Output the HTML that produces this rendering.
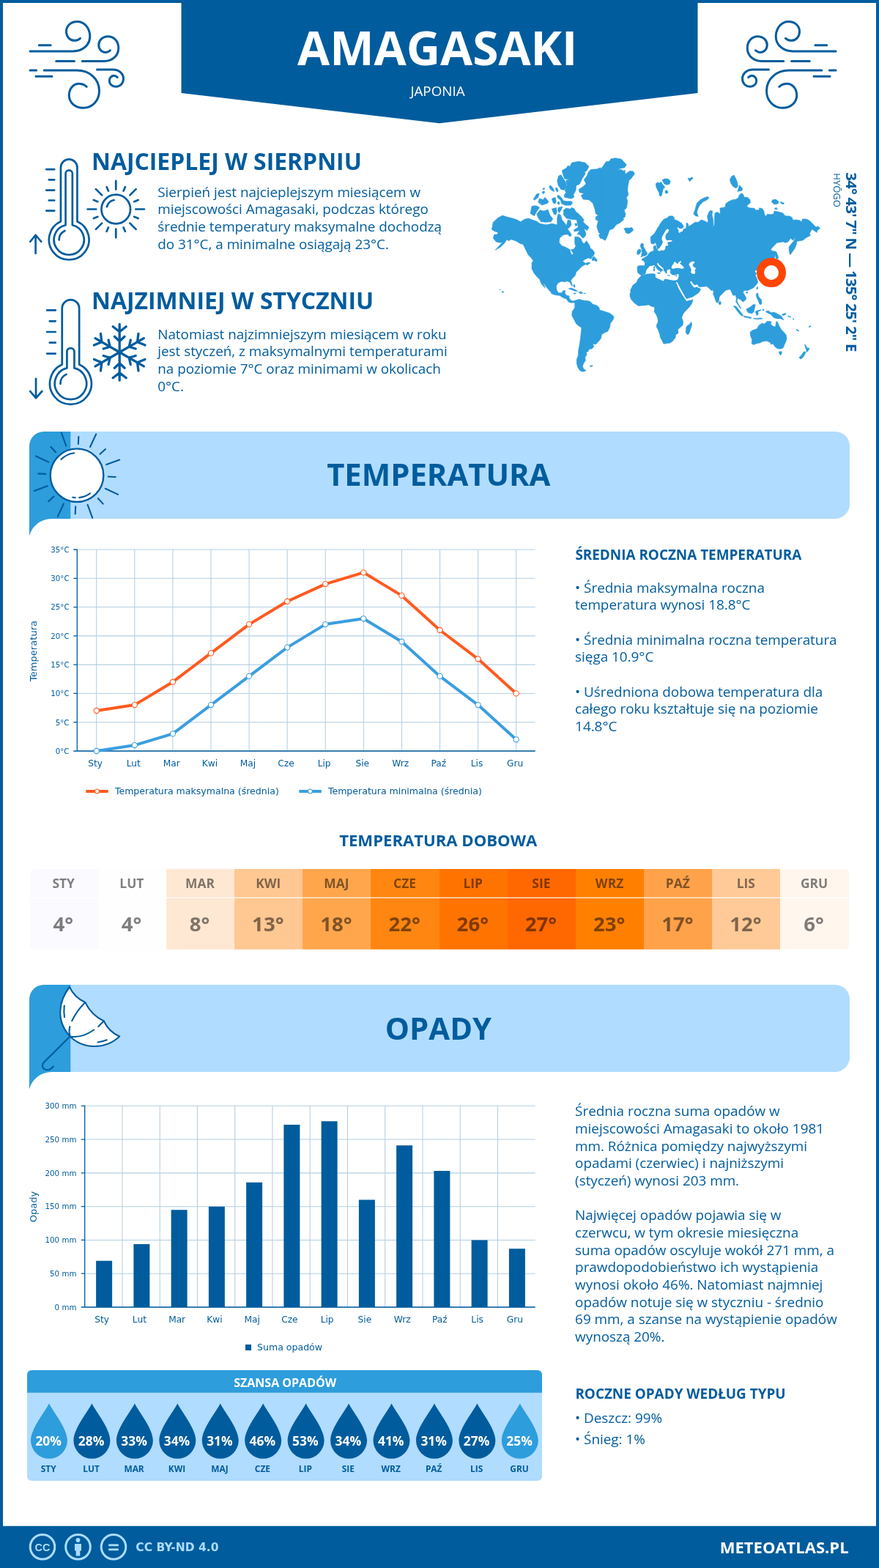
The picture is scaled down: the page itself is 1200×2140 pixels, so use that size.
<!DOCTYPE html>
<html lang="pl">
<head>
<meta charset="utf-8">
<title>Amagasaki – klimat i pogoda</title>
<style>
html,body{margin:0;padding:0;background:#fff}
body{width:1200px;height:2140px;overflow:hidden}
svg{display:block}
text{font-family:'Open Sans','Liberation Sans',sans-serif;fill:#005c9d}
.r{font-weight:400}
.sb{font-weight:600}
.b{font-weight:700}
.d{font-family:'DejaVu Sans','Liberation Sans',sans-serif;font-weight:400}
.db{font-family:'DejaVu Sans','Liberation Sans',sans-serif;font-weight:700}
.lb{font-family:'Liberation Sans',sans-serif;font-weight:700}
</style>
</head>
<body>
<svg width="1200" height="2140" viewBox="0 0 1200 2140">
<rect x="0" y="0" width="1200" height="2140" fill="#fff"/>
<path d="M0 0H1200V2140H0Z M4 4V2084H1196V4Z" fill="#005c9d" fill-rule="evenodd"/>
<path d="M247.5 0H952.5V127L600 168.3L247.5 127Z" fill="#005c9d"/>
<text id="t1" class="b" x="597.1" y="88.8" font-size="64" text-anchor="middle" style="fill:#fff" textLength="382.25" lengthAdjust="spacingAndGlyphs">AMAGASAKI</text>
<text id="t2" class="r" x="597.5" y="131" font-size="18.8" text-anchor="middle" style="fill:#fff" textLength="74.09" lengthAdjust="spacingAndGlyphs">JAPONIA</text>
<g fill="none" stroke="#005c9d" stroke-width="20" stroke-linecap="round" stroke-linejoin="round"><path transform="translate(20 10) scale(0.15)" d="M140 400H530C620 400 690 340 685 255C680 180 630 130 570 130C510 130 468 170 470 225C472 270 505 303 545 302C565 302 585 293 597 282M222 345H328M378 490H543M615 490H815C890 490 945 440 945 370C945 310 905 265 850 265C800 265 765 300 765 342C765 380 792 410 826 410C843 410 860 402 870 392M140 574H198M193 629H340M268 574H565C680 574 770 650 770 760C770 850 705 915 625 915C550 915 495 865 495 800C495 740 535 695 585 695C612 695 637 706 655 722M750 567H895C950 567 990 603 990 650C990 692 960 722 920 722C887 722 862 698 862 668C862 642 881 622 905 622C917 622 927 628 935 637"/><path transform="translate(1162 10) scale(-0.15 0.15)" d="M140 400H530C620 400 690 340 685 255C680 180 630 130 570 130C510 130 468 170 470 225C472 270 505 303 545 302C565 302 585 293 597 282M222 345H328M378 490H543M615 490H815C890 490 945 440 945 370C945 310 905 265 850 265C800 265 765 300 765 342C765 380 792 410 826 410C843 410 860 402 870 392M140 574H198M193 629H340M268 574H565C680 574 770 650 770 760C770 850 705 915 625 915C550 915 495 865 495 800C495 740 535 695 585 695C612 695 637 706 655 722M750 567H895C950 567 990 603 990 650C990 692 960 722 920 722C887 722 862 698 862 668C862 642 881 622 905 622C917 622 927 628 935 637"/></g>
<text id="t3" class="b" x="125" y="232" font-size="31.9" textLength="368.75" lengthAdjust="spacingAndGlyphs">NAJCIEPLEJ W SIERPNIU</text>
<text id="t4" class="r" x="215.2" y="269" font-size="18.88" textLength="358.83" lengthAdjust="spacingAndGlyphs">Sierpień jest najcieplejszym miesiącem w</text>
<text id="t5" class="r" x="215.2" y="292" font-size="18.88" textLength="369.61" lengthAdjust="spacingAndGlyphs">miejscowości Amagasaki, podczas którego</text>
<text id="t6" class="r" x="215.2" y="316" font-size="18.88" textLength="387.80" lengthAdjust="spacingAndGlyphs">średnie temperatury maksymalne dochodzą</text>
<text id="t7" class="r" x="215.2" y="340" font-size="18.88" textLength="315.69" lengthAdjust="spacingAndGlyphs">do 31°C, a minimalne osiągają 23°C.</text>
<text id="t8" class="b" x="125" y="422" font-size="31.9" textLength="385.20" lengthAdjust="spacingAndGlyphs">NAJZIMNIEJ W STYCZNIU</text>
<text id="t9" class="r" x="215.2" y="463" font-size="18.88" textLength="394.31" lengthAdjust="spacingAndGlyphs">Natomiast najzimniejszym miesiącem w roku</text>
<text id="t10" class="r" x="215.2" y="486" font-size="18.88" textLength="395.58" lengthAdjust="spacingAndGlyphs">jest styczeń, z maksymalnymi temperaturami</text>
<text id="t11" class="r" x="215.2" y="510" font-size="18.88" textLength="386.75" lengthAdjust="spacingAndGlyphs">na poziomie 7°C oraz minimami w okolicach</text>
<text id="t12" class="r" x="215.2" y="534" font-size="18.88" textLength="35.70" lengthAdjust="spacingAndGlyphs">0°C.</text>
<g fill="none" stroke="#005c9d" stroke-width="18" stroke-linecap="round" stroke-linejoin="round"><g transform="translate(30 200) scale(0.15)"><path d="M353.0 682.2V191.0A75 75 0 0 1 503.0 191.0V682.2A182 182 0 1 1 353.0 682.2ZM397.0 714.6V247.0A31 31 0 0 1 459.0 247.0V714.6A137 137 0 1 1 397.0 714.6ZM222 208H295M245 302H295M222 397H295M245 490H295M222 584H295M338.0 850.0A90 90 0 0 1 390.0 766.4M124 972V805M75 865L124 805L175 865"/><path d="M723 570A132 132 0 1 0 987 570A132 132 0 1 0 723 570ZM1035.0 570.0L1113.0 570.0M1021.3 638.9L1057.3 653.8M982.3 697.3L1037.4 752.4M923.9 736.3L938.8 772.3M855.0 750.0L855.0 828.0M786.1 736.3L771.2 772.3M727.7 697.3L672.6 752.4M688.7 638.9L652.7 653.8M675.0 570.0L597.0 570.0M688.7 501.1L652.7 486.2M727.7 442.7L672.6 387.6M786.1 403.7L771.2 367.7M855.0 390.0L855.0 312.0M923.9 403.7L938.8 367.7M982.3 442.7L1037.4 387.6M1021.3 501.1L1057.3 486.2M772.9 548.0A85 85 0 0 1 837.3 486.9"/></g><g transform="translate(30 390) scale(0.15)"><path d="M365.0 717.3V205.0A78 78 0 0 1 521.0 205.0V717.3A189.5 189.5 0 1 1 365.0 717.3ZM409.5 749.4V600.5A33.5 33.5 0 0 1 476.5 600.5V749.4A144.5 144.5 0 1 1 409.5 749.4ZM228 223H305M252 322H305M228 420H305M252 518H305M228 617H305M350.0 892.0A93 93 0 0 1 403.7 805.7M127 845V1020M75 960L127 1022L182 960"/><g stroke-width="22"><path transform="translate(888 605) rotate(0)" d="M0 0V-255M-60 -233L0 -187L60 -233M-46 -143L0 -100L46 -143"/><path transform="translate(888 605) rotate(60)" d="M0 0V-255M-60 -233L0 -187L60 -233M-46 -143L0 -100L46 -143"/><path transform="translate(888 605) rotate(120)" d="M0 0V-255M-60 -233L0 -187L60 -233M-46 -143L0 -100L46 -143"/><path transform="translate(888 605) rotate(180)" d="M0 0V-255M-60 -233L0 -187L60 -233M-46 -143L0 -100L46 -143"/><path transform="translate(888 605) rotate(240)" d="M0 0V-255M-60 -233L0 -187L60 -233M-46 -143L0 -100L46 -143"/><path transform="translate(888 605) rotate(300)" d="M0 0V-255M-60 -233L0 -187L60 -233M-46 -143L0 -100L46 -143"/></g></g></g>
<g transform="translate(1154.7 235.3) rotate(90)">
<text id="t13" class="b" x="0" y="0" font-size="20.3" letter-spacing="-0.74">34° 43' 7" N — 135° 25' 2" E</text>
</g>
<g transform="translate(1138 236.3) rotate(90)">
<text id="t14" class="r" x="0" y="0" font-size="13.05" textLength="46.70" lengthAdjust="spacingAndGlyphs">HYŌGO</text>
</g>
<path d="M96 588.9H1140A20 20 0 0 1 1160 608.9V687.9A20 20 0 0 1 1140 707.9H96Z" fill="#b0dcff"/>
<path d="M96.3 588.9H60A20 20 0 0 0 40 608.9V731.4A31.5 31.5 0 0 1 70.5 707.9H96.3Z" fill="#2d9ddc"/>
<text id="t15" class="b" x="598.8" y="663" font-size="41.8" text-anchor="middle" textLength="305.34" lengthAdjust="spacingAndGlyphs">TEMPERATURA</text>
<path d="M96 1343.9H1140A20 20 0 0 1 1160 1363.9V1442.9A20 20 0 0 1 1140 1462.9H96Z" fill="#b0dcff"/>
<path d="M96.3 1343.9H60A20 20 0 0 0 40 1363.9V1486.4A31.5 31.5 0 0 1 70.5 1462.9H96.3Z" fill="#2d9ddc"/>
<text id="t16" class="b" x="598.5" y="1419" font-size="41.8" text-anchor="middle" textLength="145.38" lengthAdjust="spacingAndGlyphs">OPADY</text>
<g transform="translate(30 580) scale(0.15)" fill="none" stroke="#005c9d" stroke-width="14" stroke-linecap="round" stroke-linejoin="round"><circle cx="500" cy="458" r="242" fill="#fff" stroke-width="16"/><path d="M767.8 360.5L888.1 316.7M784.7 470.4L851.7 473.4M758.3 578.4L874.3 632.5M692.5 668.1L737.8 717.5M597.5 725.8L641.3 846.1M487.6 742.7L484.6 809.7M379.6 716.3L325.5 832.3M289.9 650.5L240.5 695.8M232.2 555.5L111.9 599.3M215.3 445.6L148.3 442.6M241.7 337.6L125.7 283.5M307.5 247.9L262.2 198.5M402.5 190.2L358.7 69.9M512.4 173.3L515.4 106.3M620.4 199.7L674.5 83.7M710.1 265.5L759.5 220.2M355.8 313.8A204 204 0 0 1 475.1 255.5M619.9 623.0A204 204 0 0 1 521.3 660.9M485.8 661.5A204 204 0 0 1 461.1 658.3"/></g>
<g transform="translate(30 1335) scale(0.15)" fill="none" stroke="#005c9d" stroke-width="14" stroke-linecap="round" stroke-linejoin="round"><path d="M433 80C340 200 300 380 437 530C560 650 760 650 888 530C830 505 780 465 745 390C680 360 615 300 575 220C510 190 465 150 433 80Z" fill="#fff"/><path d="M575 220C520 275 480 335 455 388M435 440C428 470 428 500 437 530M437 530C520 545 590 515 655 470M695 440L745 390M385 250C381 290 381 320 387 355M690 583C720 580 745 573 772 562M437 530L200 765C175 790 185 835 235 835C255 835 270 820 285 803"/></g>
<path d="M131.70 750.0V1025.0M183.79 750.0V1025.0M235.88 750.0V1025.0M287.97 750.0V1025.0M340.06 750.0V1025.0M392.15 750.0V1025.0M444.24 750.0V1025.0M496.33 750.0V1025.0M548.42 750.0V1025.0M600.51 750.0V1025.0M652.60 750.0V1025.0M704.69 750.0V1025.0M105.3 1025.00H730.7M105.3 985.71H730.7M105.3 946.43H730.7M105.3 907.14H730.7M105.3 867.86H730.7M105.3 828.57H730.7M105.3 789.29H730.7M105.3 750.00H730.7" fill="none" stroke="#b3cfe4" stroke-width="1.05"/>
<path d="M105.3 749.4V1025.0H730.7M100.3 1025.00H105.3M100.3 985.71H105.3M100.3 946.43H105.3M100.3 907.14H105.3M100.3 867.86H105.3M100.3 828.57H105.3M100.3 789.29H105.3M100.3 750.00H105.3" fill="none" stroke="#005c9d" stroke-width="1.3"/>
<text id="t17" class="d" x="94.5" y="1028.8" font-size="10.2" text-anchor="end" textLength="18.70" lengthAdjust="spacingAndGlyphs">0°C</text>
<text id="t18" class="d" x="94.5" y="989.51" font-size="10.2" text-anchor="end" textLength="18.70" lengthAdjust="spacingAndGlyphs">5°C</text>
<text id="t19" class="d" x="94.5" y="950.23" font-size="10.2" text-anchor="end" textLength="25.17" lengthAdjust="spacingAndGlyphs">10°C</text>
<text id="t20" class="d" x="94.5" y="910.94" font-size="10.2" text-anchor="end" textLength="25.17" lengthAdjust="spacingAndGlyphs">15°C</text>
<text id="t21" class="d" x="94.5" y="871.66" font-size="10.2" text-anchor="end" textLength="25.17" lengthAdjust="spacingAndGlyphs">20°C</text>
<text id="t22" class="d" x="94.5" y="832.37" font-size="10.2" text-anchor="end" textLength="25.17" lengthAdjust="spacingAndGlyphs">25°C</text>
<text id="t23" class="d" x="94.5" y="793.09" font-size="10.2" text-anchor="end" textLength="25.17" lengthAdjust="spacingAndGlyphs">30°C</text>
<text id="t24" class="d" x="94.5" y="753.8" font-size="10.2" text-anchor="end" textLength="25.17" lengthAdjust="spacingAndGlyphs">35°C</text>
<text id="t25" class="d" x="130.1" y="1045.6" font-size="12.2" text-anchor="middle" textLength="19.73" lengthAdjust="spacingAndGlyphs">Sty</text>
<text id="t26" class="d" x="182.19" y="1045.6" font-size="12.2" text-anchor="middle" textLength="19.09" lengthAdjust="spacingAndGlyphs">Lut</text>
<text id="t27" class="d" x="234.28" y="1045.6" font-size="12.2" text-anchor="middle" textLength="23.00" lengthAdjust="spacingAndGlyphs">Mar</text>
<text id="t28" class="d" x="286.37" y="1045.6" font-size="12.2" text-anchor="middle" textLength="21.36" lengthAdjust="spacingAndGlyphs">Kwi</text>
<text id="t29" class="d" x="338.46" y="1045.6" font-size="12.2" text-anchor="middle" textLength="21.38" lengthAdjust="spacingAndGlyphs">Maj</text>
<text id="t30" class="d" x="390.55" y="1045.6" font-size="12.2" text-anchor="middle" textLength="22.41" lengthAdjust="spacingAndGlyphs">Cze</text>
<text id="t31" class="d" x="442.64" y="1045.6" font-size="12.2" text-anchor="middle" textLength="17.92" lengthAdjust="spacingAndGlyphs">Lip</text>
<text id="t32" class="d" x="494.72999999999996" y="1045.6" font-size="12.2" text-anchor="middle" textLength="18.62" lengthAdjust="spacingAndGlyphs">Sie</text>
<text id="t33" class="d" x="546.82" y="1045.6" font-size="12.2" text-anchor="middle" textLength="22.92" lengthAdjust="spacingAndGlyphs">Wrz</text>
<text id="t34" class="d" x="598.91" y="1045.6" font-size="12.2" text-anchor="middle" textLength="20.67" lengthAdjust="spacingAndGlyphs">Paź</text>
<text id="t35" class="d" x="651.0000000000001" y="1045.6" font-size="12.2" text-anchor="middle" textLength="16.53" lengthAdjust="spacingAndGlyphs">Lis</text>
<text id="t36" class="d" x="703.09" y="1045.6" font-size="12.2" text-anchor="middle" textLength="22.19" lengthAdjust="spacingAndGlyphs">Gru</text>
<g transform="translate(49.8 888.5) rotate(-90)">
<text id="t37" class="d" x="0" y="0" font-size="13.1" text-anchor="middle" textLength="83.20" lengthAdjust="spacingAndGlyphs">Temperatura</text>
</g>
<polyline points="131.7,970.0 183.8,962.1 235.9,930.7 288.0,891.4 340.1,852.1 392.2,820.7 444.2,797.1 496.3,781.4 548.4,812.9 600.5,860.0 652.6,899.3 704.7,946.4" fill="none" stroke="#ff5a1f" stroke-width="4" stroke-linejoin="round" stroke-linecap="round"/>
<g fill="#fff" stroke="#ff5a1f" stroke-width="1.1"><circle cx="131.7" cy="970.0" r="3.6"/><circle cx="183.8" cy="962.1" r="3.6"/><circle cx="235.9" cy="930.7" r="3.6"/><circle cx="288.0" cy="891.4" r="3.6"/><circle cx="340.1" cy="852.1" r="3.6"/><circle cx="392.2" cy="820.7" r="3.6"/><circle cx="444.2" cy="797.1" r="3.6"/><circle cx="496.3" cy="781.4" r="3.6"/><circle cx="548.4" cy="812.9" r="3.6"/><circle cx="600.5" cy="860.0" r="3.6"/><circle cx="652.6" cy="899.3" r="3.6"/><circle cx="704.7" cy="946.4" r="3.6"/></g>
<polyline points="131.7,1025.0 183.8,1017.1 235.9,1001.4 288.0,962.1 340.1,922.9 392.2,883.6 444.2,852.1 496.3,844.3 548.4,875.7 600.5,922.9 652.6,962.1 704.7,1009.3" fill="none" stroke="#3a9ee0" stroke-width="4" stroke-linejoin="round" stroke-linecap="round"/>
<g fill="#fff" stroke="#3a9ee0" stroke-width="1.1"><circle cx="131.7" cy="1025.0" r="3.6"/><circle cx="183.8" cy="1017.1" r="3.6"/><circle cx="235.9" cy="1001.4" r="3.6"/><circle cx="288.0" cy="962.1" r="3.6"/><circle cx="340.1" cy="922.9" r="3.6"/><circle cx="392.2" cy="883.6" r="3.6"/><circle cx="444.2" cy="852.1" r="3.6"/><circle cx="496.3" cy="844.3" r="3.6"/><circle cx="548.4" cy="875.7" r="3.6"/><circle cx="600.5" cy="922.9" r="3.6"/><circle cx="652.6" cy="962.1" r="3.6"/><circle cx="704.7" cy="1009.3" r="3.6"/></g>
<path d="M117.3 1080H147.8" stroke="#ff5a1f" stroke-width="4" fill="none"/>
<circle cx="132.5" cy="1080" r="3" fill="#fff" stroke="#ff5a1f" stroke-width="1.1"/>
<text id="t38" class="d" x="156.9" y="1084.2" font-size="12.55" textLength="223.91" lengthAdjust="spacingAndGlyphs">Temperatura maksymalna (średnia)</text>
<path d="M408.3 1080H438.8" stroke="#3a9ee0" stroke-width="4" fill="none"/>
<circle cx="423.5" cy="1080" r="3" fill="#fff" stroke="#3a9ee0" stroke-width="1.1"/>
<text id="t39" class="d" x="447.90000000000003" y="1084.2" font-size="12.55" textLength="209.91" lengthAdjust="spacingAndGlyphs">Temperatura minimalna (średnia)</text>
<path d="M166.95 1509.3V1784.0M218.20 1509.3V1784.0M269.45 1509.3V1784.0M320.70 1509.3V1784.0M371.95 1509.3V1784.0M423.20 1509.3V1784.0M474.45 1509.3V1784.0M525.70 1509.3V1784.0M576.95 1509.3V1784.0M628.20 1509.3V1784.0M679.45 1509.3V1784.0M115.7 1784.00H730.7M115.7 1738.22H730.7M115.7 1692.43H730.7M115.7 1646.65H730.7M115.7 1600.87H730.7M115.7 1555.08H730.7M115.7 1509.30H730.7" fill="none" stroke="#b3cfe4" stroke-width="1.05"/>
<path d="M131.12 1784.0V1720.82H153.12V1784.0ZM182.38 1784.0V1697.93H204.38V1784.0ZM233.62 1784.0V1651.23H255.62V1784.0ZM284.88 1784.0V1646.65H306.88V1784.0ZM336.12 1784.0V1613.69H358.12V1784.0ZM387.38 1784.0V1534.94H409.38V1784.0ZM438.62 1784.0V1530.36H460.62V1784.0ZM489.88 1784.0V1637.49H511.88V1784.0ZM541.12 1784.0V1563.32H563.12V1784.0ZM592.38 1784.0V1598.12H614.38V1784.0ZM643.62 1784.0V1692.43H665.62V1784.0ZM694.88 1784.0V1704.34H716.88V1784.0Z" fill="#005c9d"/>
<path d="M115.7 1508.7V1784.0H730.7M110.7 1784.00H115.7M110.7 1738.22H115.7M110.7 1692.43H115.7M110.7 1646.65H115.7M110.7 1600.87H115.7M110.7 1555.08H115.7M110.7 1509.30H115.7" fill="none" stroke="#005c9d" stroke-width="1.3"/>
<text id="t40" class="d" x="104.5" y="1787.8" font-size="10.3" text-anchor="end" textLength="29.89" lengthAdjust="spacingAndGlyphs">0 mm</text>
<text id="t41" class="d" x="104.5" y="1742.02" font-size="10.3" text-anchor="end" textLength="36.44" lengthAdjust="spacingAndGlyphs">50 mm</text>
<text id="t42" class="d" x="104.5" y="1696.23" font-size="10.3" text-anchor="end" textLength="43.00" lengthAdjust="spacingAndGlyphs">100 mm</text>
<text id="t43" class="d" x="104.5" y="1650.45" font-size="10.3" text-anchor="end" textLength="43.00" lengthAdjust="spacingAndGlyphs">150 mm</text>
<text id="t44" class="d" x="104.5" y="1604.67" font-size="10.3" text-anchor="end" textLength="43.00" lengthAdjust="spacingAndGlyphs">200 mm</text>
<text id="t45" class="d" x="104.5" y="1558.88" font-size="10.3" text-anchor="end" textLength="43.00" lengthAdjust="spacingAndGlyphs">250 mm</text>
<text id="t46" class="d" x="104.5" y="1513.1" font-size="10.3" text-anchor="end" textLength="43.00" lengthAdjust="spacingAndGlyphs">300 mm</text>
<text id="t47" class="d" x="139.125" y="1804.6" font-size="12.2" text-anchor="middle" textLength="19.73" lengthAdjust="spacingAndGlyphs">Sty</text>
<text id="t48" class="d" x="190.375" y="1804.6" font-size="12.2" text-anchor="middle" textLength="19.09" lengthAdjust="spacingAndGlyphs">Lut</text>
<text id="t49" class="d" x="241.625" y="1804.6" font-size="12.2" text-anchor="middle" textLength="23.00" lengthAdjust="spacingAndGlyphs">Mar</text>
<text id="t50" class="d" x="292.875" y="1804.6" font-size="12.2" text-anchor="middle" textLength="21.36" lengthAdjust="spacingAndGlyphs">Kwi</text>
<text id="t51" class="d" x="344.125" y="1804.6" font-size="12.2" text-anchor="middle" textLength="21.38" lengthAdjust="spacingAndGlyphs">Maj</text>
<text id="t52" class="d" x="395.375" y="1804.6" font-size="12.2" text-anchor="middle" textLength="22.41" lengthAdjust="spacingAndGlyphs">Cze</text>
<text id="t53" class="d" x="446.625" y="1804.6" font-size="12.2" text-anchor="middle" textLength="17.92" lengthAdjust="spacingAndGlyphs">Lip</text>
<text id="t54" class="d" x="497.875" y="1804.6" font-size="12.2" text-anchor="middle" textLength="18.62" lengthAdjust="spacingAndGlyphs">Sie</text>
<text id="t55" class="d" x="549.125" y="1804.6" font-size="12.2" text-anchor="middle" textLength="22.92" lengthAdjust="spacingAndGlyphs">Wrz</text>
<text id="t56" class="d" x="600.375" y="1804.6" font-size="12.2" text-anchor="middle" textLength="20.67" lengthAdjust="spacingAndGlyphs">Paź</text>
<text id="t57" class="d" x="651.625" y="1804.6" font-size="12.2" text-anchor="middle" textLength="16.53" lengthAdjust="spacingAndGlyphs">Lis</text>
<text id="t58" class="d" x="702.875" y="1804.6" font-size="12.2" text-anchor="middle" textLength="22.19" lengthAdjust="spacingAndGlyphs">Gru</text>
<g transform="translate(49.8 1647) rotate(-90)">
<text id="t59" class="d" x="0" y="0" font-size="13.1" text-anchor="middle" textLength="42.70" lengthAdjust="spacingAndGlyphs">Opady</text>
</g>
<rect x="335" y="1835" width="8" height="8" fill="#005c9d"/>
<text id="t60" class="d" x="351" y="1842.8" font-size="12.55" textLength="89.06" lengthAdjust="spacingAndGlyphs">Suma opadów</text>
<text id="t61" class="b" x="785.4" y="764" font-size="18.9" textLength="308.78" lengthAdjust="spacingAndGlyphs">ŚREDNIA ROCZNA TEMPERATURA</text>
<text id="t62" class="r" x="785.1" y="809" font-size="18.88" textLength="258.78" lengthAdjust="spacingAndGlyphs">• Średnia maksymalna roczna</text>
<text id="t63" class="r" x="785.1" y="832" font-size="18.88" textLength="239.34" lengthAdjust="spacingAndGlyphs">temperatura wynosi 18.8°C</text>
<text id="t64" class="r" x="785.1" y="880" font-size="18.88" textLength="357.50" lengthAdjust="spacingAndGlyphs">• Średnia minimalna roczna temperatura</text>
<text id="t65" class="r" x="785.1" y="903" font-size="18.88" textLength="107.22" lengthAdjust="spacingAndGlyphs">sięga 10.9°C</text>
<text id="t66" class="r" x="785.1" y="951" font-size="18.88" textLength="338.19" lengthAdjust="spacingAndGlyphs">• Uśredniona dobowa temperatura dla</text>
<text id="t67" class="r" x="785.1" y="974" font-size="18.88" textLength="331.84" lengthAdjust="spacingAndGlyphs">całego roku kształtuje się na poziomie</text>
<text id="t68" class="r" x="785.1" y="998" font-size="18.88" textLength="57.27" lengthAdjust="spacingAndGlyphs">14.8°C</text>
<text id="t69" class="b" x="598.2" y="1155" font-size="22.1" text-anchor="middle" textLength="270.11" lengthAdjust="spacingAndGlyphs">TEMPERATURA DOBOWA</text>
<clipPath id="tc"><rect x="41" y="1186" width="1118" height="109.8" rx="6"/></clipPath>
<g clip-path="url(#tc)">
<rect x="41" y="1186" width="93" height="110" fill="#fbfaff"/>
<rect x="134" y="1186" width="93" height="110" fill="#fefefe"/>
<rect x="227" y="1186" width="93" height="110" fill="#ffe8d3"/>
<rect x="320" y="1186" width="93" height="110" fill="#ffc791"/>
<rect x="413" y="1186" width="93" height="110" fill="#ffa64d"/>
<rect x="506" y="1186" width="94" height="110" fill="#ff8610"/>
<rect x="600" y="1186" width="93" height="110" fill="#ff7301"/>
<rect x="693" y="1186" width="93" height="110" fill="#ff6800"/>
<rect x="786" y="1186" width="93" height="110" fill="#ff8000"/>
<rect x="879" y="1186" width="93" height="110" fill="#ffa24a"/>
<rect x="972" y="1186" width="93" height="110" fill="#ffca98"/>
<rect x="1065" y="1186" width="95" height="110" fill="#fff6ee"/>
<rect x="41" y="1224.6" width="1118" height="1.3" fill="#fff" fill-opacity="0.9"/>
</g>
<text id="t70" class="b" x="86.69" y="1212" font-size="17.4" text-anchor="middle" style="fill:#000" textLength="30.52" lengthAdjust="spacingAndGlyphs" fill-opacity="0.5">STY</text>
<text id="t71" class="b" x="86.29" y="1270.6" font-size="27.6" text-anchor="middle" style="fill:#000" textLength="27.59" lengthAdjust="spacingAndGlyphs" fill-opacity="0.5">4°</text>
<text id="t72" class="b" x="179.85" y="1212" font-size="17.4" text-anchor="middle" style="fill:#000" textLength="33.05" lengthAdjust="spacingAndGlyphs" fill-opacity="0.5">LUT</text>
<text id="t73" class="b" x="179.45" y="1270.6" font-size="27.6" text-anchor="middle" style="fill:#000" textLength="27.59" lengthAdjust="spacingAndGlyphs" fill-opacity="0.5">4°</text>
<text id="t74" class="b" x="273.03" y="1212" font-size="17.4" text-anchor="middle" style="fill:#000" textLength="39.89" lengthAdjust="spacingAndGlyphs" fill-opacity="0.5">MAR</text>
<text id="t75" class="b" x="272.62" y="1270.6" font-size="27.6" text-anchor="middle" style="fill:#000" textLength="27.59" lengthAdjust="spacingAndGlyphs" fill-opacity="0.5">8°</text>
<text id="t76" class="b" x="366.2" y="1212" font-size="17.4" text-anchor="middle" style="fill:#000" textLength="34.12" lengthAdjust="spacingAndGlyphs" fill-opacity="0.5">KWI</text>
<text id="t77" class="b" x="365.8" y="1270.6" font-size="27.6" text-anchor="middle" style="fill:#000" textLength="43.38" lengthAdjust="spacingAndGlyphs" fill-opacity="0.5">13°</text>
<text id="t78" class="b" x="459.37" y="1212" font-size="17.4" text-anchor="middle" style="fill:#000" textLength="34.16" lengthAdjust="spacingAndGlyphs" fill-opacity="0.5">MAJ</text>
<text id="t79" class="b" x="458.96" y="1270.6" font-size="27.6" text-anchor="middle" style="fill:#000" textLength="43.38" lengthAdjust="spacingAndGlyphs" fill-opacity="0.5">18°</text>
<text id="t80" class="b" x="552.54" y="1212" font-size="17.4" text-anchor="middle" style="fill:#000" textLength="30.91" lengthAdjust="spacingAndGlyphs" fill-opacity="0.5">CZE</text>
<text id="t81" class="b" x="552.14" y="1270.6" font-size="27.6" text-anchor="middle" style="fill:#000" textLength="43.38" lengthAdjust="spacingAndGlyphs" fill-opacity="0.5">22°</text>
<text id="t82" class="b" x="645.71" y="1212" font-size="17.4" text-anchor="middle" style="fill:#000" textLength="26.52" lengthAdjust="spacingAndGlyphs" fill-opacity="0.5">LIP</text>
<text id="t83" class="b" x="645.31" y="1270.6" font-size="27.6" text-anchor="middle" style="fill:#000" textLength="43.38" lengthAdjust="spacingAndGlyphs" fill-opacity="0.5">26°</text>
<text id="t84" class="b" x="738.88" y="1212" font-size="17.4" text-anchor="middle" style="fill:#000" textLength="25.08" lengthAdjust="spacingAndGlyphs" fill-opacity="0.5">SIE</text>
<text id="t85" class="b" x="738.48" y="1270.6" font-size="27.6" text-anchor="middle" style="fill:#000" textLength="43.38" lengthAdjust="spacingAndGlyphs" fill-opacity="0.5">27°</text>
<text id="t86" class="b" x="832.05" y="1212" font-size="17.4" text-anchor="middle" style="fill:#000" textLength="38.38" lengthAdjust="spacingAndGlyphs" fill-opacity="0.5">WRZ</text>
<text id="t87" class="b" x="831.65" y="1270.6" font-size="27.6" text-anchor="middle" style="fill:#000" textLength="43.38" lengthAdjust="spacingAndGlyphs" fill-opacity="0.5">23°</text>
<text id="t88" class="b" x="925.22" y="1212" font-size="17.4" text-anchor="middle" style="fill:#000" textLength="33.00" lengthAdjust="spacingAndGlyphs" fill-opacity="0.5">PAŹ</text>
<text id="t89" class="b" x="924.82" y="1270.6" font-size="27.6" text-anchor="middle" style="fill:#000" textLength="43.38" lengthAdjust="spacingAndGlyphs" fill-opacity="0.5">17°</text>
<text id="t90" class="b" x="1018.38" y="1212" font-size="17.4" text-anchor="middle" style="fill:#000" textLength="25.17" lengthAdjust="spacingAndGlyphs" fill-opacity="0.5">LIS</text>
<text id="t91" class="b" x="1017.99" y="1270.6" font-size="27.6" text-anchor="middle" style="fill:#000" textLength="43.38" lengthAdjust="spacingAndGlyphs" fill-opacity="0.5">12°</text>
<text id="t92" class="b" x="1111.55" y="1212" font-size="17.4" text-anchor="middle" style="fill:#000" textLength="37.22" lengthAdjust="spacingAndGlyphs" fill-opacity="0.5">GRU</text>
<text id="t93" class="b" x="1111.15" y="1270.6" font-size="27.6" text-anchor="middle" style="fill:#000" textLength="27.59" lengthAdjust="spacingAndGlyphs" fill-opacity="0.5">6°</text>
<text id="t94" class="r" x="785.1" y="1523" font-size="18.88" textLength="279.53" lengthAdjust="spacingAndGlyphs">Średnia roczna suma opadów w</text>
<text id="t95" class="r" x="785.1" y="1547" font-size="18.88" textLength="339.91" lengthAdjust="spacingAndGlyphs">miejscowości Amagasaki to około 1981</text>
<text id="t96" class="r" x="785.1" y="1571" font-size="18.88" textLength="316.97" lengthAdjust="spacingAndGlyphs">mm. Różnica pomiędzy najwyższymi</text>
<text id="t97" class="r" x="785.1" y="1594" font-size="18.88" textLength="284.83" lengthAdjust="spacingAndGlyphs">opadami (czerwiec) i najniższymi</text>
<text id="t98" class="r" x="785.1" y="1618" font-size="18.88" textLength="223.97" lengthAdjust="spacingAndGlyphs">(styczeń) wynosi 203 mm.</text>
<text id="t99" class="r" x="785.1" y="1665" font-size="18.88" textLength="281.19" lengthAdjust="spacingAndGlyphs">Najwięcej opadów pojawia się w</text>
<text id="t100" class="r" x="785.1" y="1689" font-size="18.88" textLength="305.08" lengthAdjust="spacingAndGlyphs">czerwcu, w tym okresie miesięczna</text>
<text id="t101" class="r" x="785.1" y="1713" font-size="18.88" textLength="353.84" lengthAdjust="spacingAndGlyphs">suma opadów oscyluje wokół 271 mm, a</text>
<text id="t102" class="r" x="785.1" y="1736" font-size="18.88" textLength="332.23" lengthAdjust="spacingAndGlyphs">prawdopodobieństwo ich wystąpienia</text>
<text id="t103" class="r" x="785.1" y="1760" font-size="18.88" textLength="338.25" lengthAdjust="spacingAndGlyphs">wynosi około 46%. Natomiast najmniej</text>
<text id="t104" class="r" x="785.1" y="1784" font-size="18.88" textLength="339.25" lengthAdjust="spacingAndGlyphs">opadów notuje się w styczniu - średnio</text>
<text id="t105" class="r" x="785.1" y="1807" font-size="18.88" textLength="357.66" lengthAdjust="spacingAndGlyphs">69 mm, a szanse na wystąpienie opadów</text>
<text id="t106" class="r" x="785.1" y="1831" font-size="18.88" textLength="122.30" lengthAdjust="spacingAndGlyphs">wynoszą 20%.</text>
<text id="t107" class="b" x="785.4" y="1909" font-size="18.9" textLength="287.17" lengthAdjust="spacingAndGlyphs">ROCZNE OPADY WEDŁUG TYPU</text>
<text id="t108" class="r" x="785.1" y="1942" font-size="18.88" textLength="118.98" lengthAdjust="spacingAndGlyphs">• Deszcz: 99%</text>
<text id="t109" class="r" x="785.1" y="1971" font-size="18.88" textLength="95.72" lengthAdjust="spacingAndGlyphs">• Śnieg: 1%</text>
<path d="M37 1901V1876A6 6 0 0 1 43 1870H734A6 6 0 0 1 740 1876V1901Z" fill="#2d9ddc"/>
<path d="M37 1900.8H740V2015A6 6 0 0 1 734 2021H43A6 6 0 0 1 37 2015Z" fill="#b0dcff"/>
<text id="t110" class="b" x="389.2" y="1892.6" font-size="16" text-anchor="middle" style="fill:#fff" textLength="140.00" lengthAdjust="spacingAndGlyphs">SZANSA OPADÓW</text>
<path transform="translate(67.00 1965.8)" d="M0 -50.3C5 -40 25 -16 25 0A25 25 0 0 1 -25 0C-25 -16 -5 -40 0 -50.3Z" fill="#2d9ddc"/>
<text id="t111" class="b" x="66.2" y="1972.5" font-size="17.4" text-anchor="middle" style="fill:#fff" textLength="35.56" lengthAdjust="spacingAndGlyphs">20%</text>
<text id="t112" class="b" x="66.2" y="2009.3" font-size="11.9" text-anchor="middle" textLength="20.86" lengthAdjust="spacingAndGlyphs">STY</text>
<path transform="translate(125.44 1965.8)" d="M0 -50.3C5 -40 25 -16 25 0A25 25 0 0 1 -25 0C-25 -16 -5 -40 0 -50.3Z" fill="#005c9d"/>
<text id="t113" class="b" x="124.64" y="1972.5" font-size="17.4" text-anchor="middle" style="fill:#fff" textLength="35.56" lengthAdjust="spacingAndGlyphs">28%</text>
<text id="t114" class="b" x="124.64" y="2009.3" font-size="11.9" text-anchor="middle" textLength="22.59" lengthAdjust="spacingAndGlyphs">LUT</text>
<path transform="translate(183.88 1965.8)" d="M0 -50.3C5 -40 25 -16 25 0A25 25 0 0 1 -25 0C-25 -16 -5 -40 0 -50.3Z" fill="#005c9d"/>
<text id="t115" class="b" x="183.08" y="1972.5" font-size="17.4" text-anchor="middle" style="fill:#fff" textLength="35.56" lengthAdjust="spacingAndGlyphs">33%</text>
<text id="t116" class="b" x="183.08" y="2009.3" font-size="11.9" text-anchor="middle" textLength="27.27" lengthAdjust="spacingAndGlyphs">MAR</text>
<path transform="translate(242.32 1965.8)" d="M0 -50.3C5 -40 25 -16 25 0A25 25 0 0 1 -25 0C-25 -16 -5 -40 0 -50.3Z" fill="#005c9d"/>
<text id="t117" class="b" x="241.52" y="1972.5" font-size="17.4" text-anchor="middle" style="fill:#fff" textLength="35.56" lengthAdjust="spacingAndGlyphs">34%</text>
<text id="t118" class="b" x="241.52" y="2009.3" font-size="11.9" text-anchor="middle" textLength="23.34" lengthAdjust="spacingAndGlyphs">KWI</text>
<path transform="translate(300.76 1965.8)" d="M0 -50.3C5 -40 25 -16 25 0A25 25 0 0 1 -25 0C-25 -16 -5 -40 0 -50.3Z" fill="#005c9d"/>
<text id="t119" class="b" x="299.96" y="1972.5" font-size="17.4" text-anchor="middle" style="fill:#fff" textLength="35.56" lengthAdjust="spacingAndGlyphs">31%</text>
<text id="t120" class="b" x="299.96" y="2009.3" font-size="11.9" text-anchor="middle" textLength="23.36" lengthAdjust="spacingAndGlyphs">MAJ</text>
<path transform="translate(359.20 1965.8)" d="M0 -50.3C5 -40 25 -16 25 0A25 25 0 0 1 -25 0C-25 -16 -5 -40 0 -50.3Z" fill="#005c9d"/>
<text id="t121" class="b" x="358.4" y="1972.5" font-size="17.4" text-anchor="middle" style="fill:#fff" textLength="35.56" lengthAdjust="spacingAndGlyphs">46%</text>
<text id="t122" class="b" x="358.4" y="2009.3" font-size="11.9" text-anchor="middle" textLength="21.12" lengthAdjust="spacingAndGlyphs">CZE</text>
<path transform="translate(417.64 1965.8)" d="M0 -50.3C5 -40 25 -16 25 0A25 25 0 0 1 -25 0C-25 -16 -5 -40 0 -50.3Z" fill="#005c9d"/>
<text id="t123" class="b" x="416.84" y="1972.5" font-size="17.4" text-anchor="middle" style="fill:#fff" textLength="35.56" lengthAdjust="spacingAndGlyphs">53%</text>
<text id="t124" class="b" x="416.84" y="2009.3" font-size="11.9" text-anchor="middle" textLength="18.12" lengthAdjust="spacingAndGlyphs">LIP</text>
<path transform="translate(476.08 1965.8)" d="M0 -50.3C5 -40 25 -16 25 0A25 25 0 0 1 -25 0C-25 -16 -5 -40 0 -50.3Z" fill="#005c9d"/>
<text id="t125" class="b" x="475.28" y="1972.5" font-size="17.4" text-anchor="middle" style="fill:#fff" textLength="35.56" lengthAdjust="spacingAndGlyphs">34%</text>
<text id="t126" class="b" x="475.28" y="2009.3" font-size="11.9" text-anchor="middle" textLength="17.16" lengthAdjust="spacingAndGlyphs">SIE</text>
<path transform="translate(534.52 1965.8)" d="M0 -50.3C5 -40 25 -16 25 0A25 25 0 0 1 -25 0C-25 -16 -5 -40 0 -50.3Z" fill="#005c9d"/>
<text id="t127" class="b" x="533.72" y="1972.5" font-size="17.4" text-anchor="middle" style="fill:#fff" textLength="35.56" lengthAdjust="spacingAndGlyphs">41%</text>
<text id="t128" class="b" x="533.72" y="2009.3" font-size="11.9" text-anchor="middle" textLength="26.23" lengthAdjust="spacingAndGlyphs">WRZ</text>
<path transform="translate(592.96 1965.8)" d="M0 -50.3C5 -40 25 -16 25 0A25 25 0 0 1 -25 0C-25 -16 -5 -40 0 -50.3Z" fill="#005c9d"/>
<text id="t129" class="b" x="592.16" y="1972.5" font-size="17.4" text-anchor="middle" style="fill:#fff" textLength="35.56" lengthAdjust="spacingAndGlyphs">31%</text>
<text id="t130" class="b" x="592.16" y="2009.3" font-size="11.9" text-anchor="middle" textLength="22.56" lengthAdjust="spacingAndGlyphs">PAŹ</text>
<path transform="translate(651.40 1965.8)" d="M0 -50.3C5 -40 25 -16 25 0A25 25 0 0 1 -25 0C-25 -16 -5 -40 0 -50.3Z" fill="#005c9d"/>
<text id="t131" class="b" x="650.6" y="1972.5" font-size="17.4" text-anchor="middle" style="fill:#fff" textLength="35.56" lengthAdjust="spacingAndGlyphs">27%</text>
<text id="t132" class="b" x="650.6" y="2009.3" font-size="11.9" text-anchor="middle" textLength="17.20" lengthAdjust="spacingAndGlyphs">LIS</text>
<path transform="translate(709.84 1965.8)" d="M0 -50.3C5 -40 25 -16 25 0A25 25 0 0 1 -25 0C-25 -16 -5 -40 0 -50.3Z" fill="#2d9ddc"/>
<text id="t133" class="b" x="709.04" y="1972.5" font-size="17.4" text-anchor="middle" style="fill:#fff" textLength="35.56" lengthAdjust="spacingAndGlyphs">25%</text>
<text id="t134" class="b" x="709.04" y="2009.3" font-size="11.9" text-anchor="middle" textLength="25.45" lengthAdjust="spacingAndGlyphs">GRU</text>
<rect x="0" y="2082.7" width="1200" height="57.3" fill="#005c9d"/>
<g fill="none" stroke="#abdcff" stroke-width="3"><circle cx="58" cy="2111.3" r="16.8"/><circle cx="106.5" cy="2111.3" r="16.8"/><circle cx="155" cy="2111.3" r="16.8"/></g>
<text id="t135" class="lb" x="58" y="2116.5" font-size="14.5" text-anchor="middle" style="fill:#abdcff" textLength="20.95" lengthAdjust="spacingAndGlyphs">CC</text>
<g fill="#abdcff"><circle cx="106.5" cy="2102" r="2.9"/><path d="M102 2107H111V2116.5H109.3V2123.5H103.7V2116.5H102Z"/><rect x="148.2" y="2107.4" width="13.6" height="2.8"/><rect x="148.2" y="2113.4" width="13.6" height="2.8"/></g>
<text id="t136" class="db" x="185.3" y="2117" font-size="15.6" style="fill:#abdcff" textLength="113.2" lengthAdjust="spacingAndGlyphs">CC BY-ND 4.0</text>
<text id="t137" class="b" x="1158.6" y="2119.5" font-size="22" text-anchor="end" style="fill:#fff" textLength="175.80" lengthAdjust="spacingAndGlyphs">METEOATLAS.PL</text>
<g id="map"><path d="M678.7 320.0L680.0 317.3L676.0 316.0L671.3 313.3L673.3 303.3L680.0 297.3L686.0 294.0L692.0 296.0L700.0 298.0L706.0 300.0L710.7 302.7L716.0 299.3L721.3 298.0L726.7 300.0L732.7 302.0L737.3 305.3L745.3 306.7L753.3 305.3L760.7 306.7L760.7 297.3L762.0 292.0L765.3 293.3L767.3 300.0L770.7 304.0L773.3 308.0L775.3 300.0L778.7 300.7L780.0 306.7L777.3 310.7L774.7 312.0L780.0 320.0ZM732.7 292.0L737.3 286.7L742.7 288.0L748.0 286.0L750.7 293.3L754.7 298.7L752.0 302.7L745.3 303.3L738.7 302.7L734.7 297.3ZM724.0 291.3L726.0 281.3L732.0 280.7L736.7 283.3L732.7 288.7L729.3 294.7ZM734.7 276.0L736.7 270.7L741.3 272.7L744.0 269.3L748.7 274.7L748.0 277.3L740.0 280.0ZM728.0 272.0L732.7 264.7L736.3 264.0L734.7 269.3L730.0 273.1ZM739.7 262.7L742.0 260.7L744.0 262.0L742.0 264.7ZM740.7 258.0L742.7 256.3L744.0 257.6L742.0 258.9ZM767.3 232.7L773.3 229.3L775.3 226.0L778.0 227.3L780.7 222.0L790.0 220.3L798.7 222.0L804.0 227.3L801.3 232.7L798.0 235.3L799.3 236.7L794.7 244.0L791.3 251.3L786.7 253.3L786.0 260.0L782.7 266.0L784.0 268.7L780.0 271.3L770.7 269.3L770.0 266.7L772.7 262.7L771.3 260.0L774.0 253.3L772.7 246.0L778.0 245.3L770.7 244.0L768.3 237.3ZM760.7 246.7L762.7 240.0L766.0 238.7L769.3 244.0L772.7 249.3L773.3 254.7L770.7 259.3L766.0 258.7L762.0 252.7ZM749.6 254.0L752.0 253.3L755.3 257.3L756.7 261.6L753.3 260.0L750.7 257.3ZM758.3 256.7L760.0 256.0L762.0 259.3L761.3 262.0L759.3 260.7ZM760.7 266.7L763.3 266.7L766.7 270.0L769.3 274.0L774.7 274.7L780.0 274.7L781.6 277.3L779.3 280.0L772.0 280.3L766.7 278.0L765.3 273.3L761.3 270.0ZM753.3 271.3L758.0 269.3L759.3 274.7L758.0 278.0L755.3 277.3ZM760.7 276.7L762.7 274.9L764.3 277.3L762.7 279.6ZM753.3 285.3L759.3 283.3L760.3 289.3L758.7 293.3L756.0 292.0ZM762.0 283.3L768.0 282.0L766.0 286.7L763.3 290.7L761.6 287.3ZM769.3 286.7L773.3 284.0L778.7 285.3L780.0 283.3L784.0 284.7L786.0 288.7L790.0 292.0L793.3 295.3L797.3 300.0L796.0 302.7L800.0 306.7L804.0 310.0L801.3 314.7L797.3 311.3L799.3 317.3L800.0 320.0L788.0 320.0L791.3 314.7L784.0 316.0L783.3 314.0L789.3 310.0L787.3 300.0L780.0 299.3L773.3 298.0L769.3 293.3ZM820.0 320.0L817.3 317.3L814.7 309.3L816.7 301.3L813.3 300.0L813.3 296.0L816.7 293.3L813.3 292.0L812.0 285.3L809.3 277.3L804.0 272.7L796.0 272.0L793.3 266.7L797.3 264.0L791.3 262.7L790.0 258.7L796.0 254.7L800.0 250.7L797.3 245.3L801.3 240.0L803.3 234.7L806.7 231.3L814.7 230.7L820.0 228.7ZM784.7 305.3L787.3 304.7L788.0 307.3L786.0 308.7ZM820.0 230.7L823.3 226.7L827.3 220.7L832.0 220.0L834.0 216.7L840.0 215.7L848.0 217.1L855.3 224.7L852.7 228.7L842.7 230.9L848.7 231.7L851.3 233.6L853.1 232.0L853.6 237.6L860.0 233.3L864.7 234.0L866.4 237.3L861.3 244.0L858.7 246.4L857.3 253.3L856.7 260.0L858.0 266.0L855.3 269.3L856.7 274.7L856.0 280.0L855.3 284.0L852.0 286.7L854.0 292.0L853.3 296.0L850.0 298.0L852.0 299.3L846.7 304.0L841.3 306.7L837.3 312.0L832.0 314.0L830.0 320.0L820.0 320.0ZM851.7 312.0L854.7 310.9L858.7 311.3L862.7 310.4L864.7 314.0L861.3 317.3L858.0 318.9L854.7 318.0L853.3 314.7ZM895.3 250.7L898.0 248.7L900.0 250.0L902.7 248.3L905.3 252.7L908.0 255.3L905.3 258.0L903.3 266.7L901.3 268.3L899.7 265.3L900.0 263.3L897.3 258.7L895.7 254.7ZM904.0 245.6L907.3 244.0L912.0 244.0L915.3 247.3L914.0 251.3L910.7 252.3L906.7 250.9ZM908.0 260.7L910.0 259.3L912.3 262.4L910.0 264.3L908.0 263.3ZM939.1 243.3L942.0 243.3L944.7 241.6L946.0 243.3L943.3 246.0L941.3 247.7L940.0 245.3ZM946.7 292.0L948.7 286.7L951.3 277.3L956.0 272.7L961.3 270.0L966.0 268.3L968.0 270.0L965.3 272.7L960.0 275.3L955.3 280.0L952.7 285.3L951.3 290.0L953.3 295.3L950.0 294.9ZM892.7 320.0L897.3 313.3L901.3 305.3L906.0 299.3L911.3 297.3L913.3 294.9L918.0 294.7L920.7 297.3L920.0 299.3L925.3 301.3L930.7 304.7L933.1 308.7L931.7 311.3L926.7 310.7L925.3 313.3L926.7 317.3L930.7 316.7L932.7 313.3L937.3 309.3L936.7 305.3L938.0 304.0L940.0 306.7L939.3 309.3L944.0 306.7L948.7 303.3L953.3 303.3L957.3 300.0L961.3 301.3L966.0 304.0L966.7 301.3L965.6 295.3L967.3 290.7L969.3 287.3L972.7 288.0L972.0 293.3L973.3 298.7L974.0 306.7L972.0 310.7L975.3 306.7L975.3 299.3L976.0 290.7L980.0 289.3L980.0 320.0ZM996.3 245.3L998.7 240.7L1002.0 238.9L1004.7 244.0L1006.7 249.3L1007.3 254.7L1004.7 256.7L1000.7 254.4L998.0 250.7ZM1006.7 261.3L1009.6 252.7L1014.0 257.6L1012.7 260.3ZM980.0 320.0L980.0 290.0L983.3 292.0L982.9 284.0L990.0 282.7L990.7 278.0L995.3 274.7L1000.0 272.7L1004.7 272.0L1008.0 270.0L1009.3 266.0L1012.7 263.7L1014.7 265.3L1015.7 269.1L1020.7 269.3L1024.0 272.7L1024.3 276.7L1019.3 281.3L1022.7 283.7L1030.0 284.3L1031.3 286.7L1036.0 286.7L1036.7 283.7L1040.7 284.7L1042.9 288.0L1043.7 293.1L1046.0 295.3L1047.3 292.3L1052.7 292.7L1056.0 292.0L1057.1 288.0L1062.7 289.1L1068.7 290.7L1072.0 294.7L1078.0 294.9L1081.3 296.7L1082.4 300.3L1086.7 300.0L1092.0 300.7L1094.4 302.9L1095.3 298.9L1100.7 298.9L1105.3 301.3L1110.0 306.0L1114.0 310.0L1116.7 308.7L1119.7 312.0L1116.0 314.0L1115.3 317.3L1111.3 314.7L1108.7 312.7L1106.0 317.3L1104.7 320.0ZM1053.3 275.3L1054.7 272.7L1058.7 272.0L1062.9 274.7L1062.4 278.0L1056.7 278.9ZM1065.3 275.3L1070.7 277.3L1069.3 278.9L1066.0 277.3ZM1057.3 284.7L1059.7 283.3L1061.6 285.6L1058.7 286.0ZM770.7 320.0L768.0 321.3L764.0 325.3L763.3 330.7L766.7 335.3L772.0 337.3L778.0 340.7L778.7 344.0L780.7 348.0L782.7 346.0L779.3 340.7L783.3 340.0L786.0 336.0L784.7 332.7L784.7 323.3L789.3 323.3L793.3 326.0L794.7 330.0L797.3 332.7L800.7 328.7L804.7 334.7L806.0 338.7L809.3 341.3L811.7 344.7L810.7 348.0L806.7 353.3L803.3 352.0L798.7 354.0L795.3 356.3L799.3 359.5L802.0 358.7L798.7 361.3L794.7 363.3L791.3 366.7L786.7 371.3L785.3 376.0L780.7 380.7L779.3 383.3L780.7 386.7L781.3 390.7L780.0 389.3L778.0 385.3L774.7 383.7L770.7 384.7L766.7 384.0L762.0 386.0L759.3 390.7L760.0 396.0L762.7 400.0L766.7 400.0L768.7 396.7L772.0 396.7L770.7 400.0L772.0 403.3L776.0 405.3L777.3 409.3L779.3 412.0L782.7 410.7L788.0 409.3L791.3 408.7L787.3 410.7L785.3 413.3L782.7 412.0L780.0 413.3L776.0 412.0L773.3 408.0L769.3 406.7L764.0 403.3L759.3 402.7L753.3 400.0L750.0 396.7L746.7 392.7L743.3 388.0L738.4 381.6L740.0 382.7L744.7 393.3L741.3 390.0L738.7 386.7L736.7 381.3L733.3 378.0L729.3 373.3L726.0 366.7L726.0 358.7L728.0 356.0L725.3 352.0L721.3 348.0L717.3 340.0L714.0 333.3L710.7 332.7L704.0 328.7L698.0 326.7L694.0 328.7L692.0 326.7L688.7 332.0L683.3 337.3L676.0 341.3L686.0 330.7L682.7 331.3L677.3 330.0L673.3 325.3L674.7 320.0ZM776.0 320.0L780.0 320.0L779.3 322.4L776.7 322.0ZM800.0 320.0L798.7 322.7L796.0 325.3L793.3 322.7L791.3 320.0ZM817.3 320.0L820.0 320.0L820.0 325.3L818.7 324.0ZM808.0 353.3L810.7 350.0L812.7 352.0L815.3 354.9L814.7 357.1L811.3 355.3L808.7 355.7ZM799.3 360.0L803.3 358.0L806.0 358.7L801.3 362.0ZM776.0 394.0L780.0 393.1L785.3 395.3L788.7 397.6L784.7 397.3L780.0 395.3ZM790.0 398.7L793.3 398.0L796.0 400.0L792.0 400.7ZM797.3 400.0L799.3 400.0L799.3 400.8L797.3 400.8ZM783.3 400.0L786.0 400.0L786.0 401.1L783.3 401.1ZM782.7 388.7L784.7 388.7L784.7 392.0L783.3 392.0ZM685.3 397.6L687.7 398.0L687.3 399.3L685.6 398.9ZM682.0 394.9L683.3 395.3L682.9 396.0ZM980.0 310.0L980.0 413.3L978.0 412.0L975.3 402.7L973.3 396.0L970.7 396.3L968.0 393.3L964.7 390.7L958.7 391.3L954.0 392.0L956.7 395.3L953.3 400.0L945.3 405.3L936.0 408.0L937.3 410.4L946.0 408.7L944.7 413.3L941.3 418.7L937.3 422.7L932.7 428.0L930.7 433.3L932.0 440.0L898.7 440.0L898.0 434.7L896.0 429.3L893.3 425.3L894.0 422.7L893.3 418.7L889.3 418.0L885.3 415.7L880.7 416.0L876.0 416.7L871.3 417.3L866.0 413.3L863.3 409.3L860.7 405.3L861.3 401.3L860.7 396.0L864.0 389.3L869.3 385.3L870.7 381.3L875.7 376.0L874.0 374.7L871.0 372.7L870.2 370.0L870.0 365.2L870.8 363.1L875.0 362.5L880.0 362.7L880.4 360.0L880.0 357.7L878.2 355.7L876.2 355.0L876.7 353.3L879.6 351.7L884.2 348.8L885.8 345.8L888.3 343.8L892.7 342.1L892.1 338.8L892.3 336.2L894.2 334.8L895.7 336.0L896.0 339.3L897.7 339.8L897.1 337.9L896.0 333.8L894.6 330.8L892.5 333.3L888.9 332.3L888.3 328.3L888.2 323.3L890.0 321.7L893.3 319.2L895.8 315.0L898.3 310.0ZM874.6 333.8L875.8 332.1L877.9 332.5L878.8 334.6L877.9 335.8L880.0 339.2L881.7 342.5L883.8 345.8L882.9 347.9L880.0 349.2L876.7 350.0L874.6 350.8L876.2 348.3L875.4 346.7L877.1 345.0L875.8 342.9L876.2 340.8L875.0 338.3L874.2 335.8ZM869.6 346.7L870.0 342.5L871.7 340.4L873.8 340.0L875.0 341.7L874.6 344.6L872.9 346.7L870.8 347.5ZM820.0 320.0L830.0 320.0L828.0 325.3L826.0 328.3L822.7 326.0L820.0 325.3ZM820.0 424.0L825.3 425.3L832.0 427.3L836.7 430.7L838.0 433.3L834.7 440.0L820.0 440.0ZM1106.7 320.0L1105.3 322.0L1100.0 324.7L1096.0 328.0L1092.0 328.7L1088.0 329.3L1086.7 332.7L1086.0 328.0L1087.3 322.7L1085.3 325.3L1082.7 328.0L1079.3 325.3L1076.0 330.0L1072.0 331.3L1069.3 330.0L1065.3 330.7L1060.7 331.3L1056.0 336.0L1052.0 340.7L1054.7 342.7L1058.0 342.9L1060.0 344.0L1062.0 349.3L1062.7 352.7L1060.0 353.3L1058.7 350.7L1058.7 346.7L1056.7 353.3L1052.0 360.0L1033.3 368.0L1030.0 370.7L1032.7 372.7L1031.3 376.0L1033.3 380.0L1034.7 385.3L1032.0 389.3L1028.7 392.7L1024.7 394.7L1020.0 396.7L1016.0 396.3L1014.4 399.3L1016.7 402.7L1018.7 406.7L1018.0 409.3L1014.0 412.0L1011.3 409.3L1007.3 406.7L1006.0 410.7L1008.7 416.0L1012.0 421.3L1010.0 420.0L1006.7 414.7L1004.7 412.0L1005.3 406.7L1004.0 402.7L1000.7 403.3L998.7 398.7L996.7 394.7L991.3 396.0L986.7 400.0L982.0 404.0L981.3 410.7L980.0 412.0L980.0 320.0ZM1018.7 398.7L1020.7 398.0L1020.7 400.0L1018.9 400.3ZM1032.7 392.7L1034.4 391.3L1034.7 394.0L1033.1 394.9ZM1077.1 337.3L1079.3 334.0L1083.3 329.3L1086.0 325.3L1087.7 322.0L1086.7 326.7L1087.3 333.3L1085.3 338.7L1082.0 343.3L1078.7 348.0L1077.3 342.7ZM1032.7 400.7L1034.7 400.0L1035.3 404.0L1037.3 406.7L1039.3 408.7L1040.0 413.3L1038.7 416.0L1036.7 414.7L1035.3 410.7L1033.3 406.7L1032.3 403.3ZM1018.7 422.0L1024.0 419.3L1028.7 415.3L1031.3 416.0L1030.0 421.3L1029.3 425.3L1026.7 428.0L1021.3 426.7ZM1001.3 417.3L1004.7 418.0L1008.7 422.7L1012.0 426.7L1014.7 430.7L1012.7 431.3L1008.7 427.3L1004.7 422.0ZM1015.3 431.3L1020.0 432.0L1026.0 433.3L1025.3 434.7L1020.0 433.6L1015.7 432.7ZM1028.0 434.4L1033.3 434.4L1038.7 434.0L1041.3 434.9L1036.0 435.7L1030.7 435.5ZM1031.3 425.3L1033.3 424.0L1038.7 422.7L1038.4 424.0L1034.7 425.3L1035.3 428.7L1033.3 430.7L1032.0 428.0ZM1045.3 425.3L1048.7 424.0L1052.7 426.7L1056.7 426.0L1062.0 428.7L1066.7 431.3L1070.0 436.7L1065.3 434.9L1060.0 434.7L1056.0 433.3L1052.7 429.3L1048.0 427.3ZM1041.3 422.0L1042.7 422.0L1042.7 424.0L1041.3 424.0ZM1067.3 429.3L1072.0 427.3L1073.3 428.7L1069.3 430.7ZM1076.0 430.7L1080.0 432.7L1079.3 433.3L1075.7 431.7ZM1082.0 434.0L1084.0 436.0L1083.3 436.7ZM981.3 412.0L983.3 411.3L984.3 414.0L982.7 416.0L981.3 414.7ZM784.7 412.7L788.0 409.3L792.0 408.7L796.0 410.0L801.3 410.4L805.3 411.3L809.3 415.3L814.7 416.7L818.0 420.0L818.7 423.3L824.0 424.7L830.0 427.3L834.7 429.3L838.0 432.7L836.7 436.7L833.3 440.7L832.7 446.0L830.0 452.0L825.3 454.0L821.3 456.7L820.7 461.3L817.3 466.0L813.3 470.0L809.3 469.3L810.7 473.3L808.0 476.0L804.0 476.7L802.7 480.0L800.0 480.7L801.3 483.3L798.7 488.0L799.3 492.0L796.7 496.0L795.3 500.0L796.7 503.3L800.0 506.0L796.0 507.3L792.0 506.0L788.7 501.3L787.3 496.0L787.3 490.7L789.3 485.3L789.6 478.7L791.3 469.3L792.3 462.7L793.3 453.3L794.0 447.3L790.0 444.7L786.7 442.0L784.0 436.7L780.7 430.7L781.1 425.3L784.7 420.0ZM772.0 400.0L771.3 401.3L774.0 403.3L777.3 404.0L776.7 406.0L778.7 409.3L782.0 411.3L784.7 412.7L781.3 413.3L777.3 411.3L773.3 406.7L769.3 404.7L765.3 402.0L761.3 402.9L756.0 402.0L752.0 400.0ZM805.3 499.3L808.7 498.7L809.1 499.7L806.0 500.7ZM930.7 400.0L935.3 406.7L937.3 410.4L945.6 408.7L944.7 413.3L941.3 418.7L937.3 422.7L933.3 426.7L930.7 431.3L930.7 434.7L932.7 438.7L932.0 444.0L928.7 446.7L925.3 450.0L926.0 454.7L922.7 456.7L922.0 460.7L918.7 465.3L914.7 468.0L910.0 468.7L906.0 469.3L904.0 465.3L901.3 460.0L900.7 456.0L898.7 450.7L896.3 446.0L896.7 442.7L898.7 438.7L898.0 433.3L896.0 429.3L893.1 425.3L894.0 422.0L893.3 418.7L889.3 418.0L886.0 415.7L880.7 416.7L876.0 417.1L871.3 417.3L865.3 412.7L861.3 408.0L860.0 404.0L860.0 400.0ZM936.7 447.3L938.0 444.7L941.3 442.7L943.7 439.3L944.7 442.7L942.7 449.3L940.7 455.3L938.7 456.7L936.7 454.7L936.3 451.3ZM986.7 400.0L984.0 402.7L982.0 405.3L980.7 410.7L978.0 412.7L975.3 405.3L973.3 400.0ZM982.0 412.0L983.3 411.3L984.3 414.0L983.3 415.7L982.0 414.7ZM1024.0 453.3L1027.3 450.7L1033.3 448.7L1036.0 444.0L1040.0 441.3L1044.0 442.0L1046.7 438.7L1050.7 438.4L1053.1 439.3L1052.0 442.0L1055.3 445.3L1058.7 446.0L1059.7 438.7L1061.3 439.3L1064.0 445.3L1066.7 450.0L1070.7 454.0L1073.3 457.3L1074.0 462.0L1072.7 466.7L1070.7 470.7L1069.3 474.7L1065.3 476.3L1061.3 475.7L1058.0 473.3L1055.3 469.3L1052.7 470.0L1051.3 467.3L1046.7 465.3L1041.3 466.0L1037.3 468.0L1033.3 468.7L1028.7 470.4L1026.0 468.7L1026.7 464.0L1024.7 458.7ZM1063.3 480.0L1067.3 479.7L1066.9 483.3L1065.3 484.7L1064.0 482.7ZM1098.4 470.0L1100.0 471.3L1102.0 474.9L1105.3 475.3L1103.3 478.7L1101.3 480.7L1100.7 477.3L1099.3 473.3ZM1090.7 488.0L1094.0 484.7L1097.3 480.0L1100.0 480.0L1098.7 484.0L1096.0 488.0L1093.3 490.0ZM1087.3 449.3L1090.7 451.3L1090.4 452.3L1087.1 450.4ZM1104.0 446.0L1106.7 444.3L1107.3 445.1L1104.7 446.9Z" fill="#2d9ddc" stroke="#2d9ddc" stroke-width="0.6" stroke-linejoin="round"/><path d="M875.3 375.0L877.3 375.8L879.7 375.0L881.7 372.7L882.0 370.0L883.3 367.3L885.3 365.3L886.7 363.3L889.3 363.0L892.0 362.0L893.7 362.5L895.0 364.3L896.7 366.7L898.7 368.7L900.7 370.0L901.5 371.5L901.0 372.1L897.3 372.0L897.0 372.3L895.0 374.3L893.3 373.5L889.3 373.3L884.0 373.7L879.3 374.8L877.3 376.0ZM901.3 373.0L902.3 370.7L904.0 369.7L905.7 368.7L907.0 370.0L908.3 372.3L910.0 373.7L910.7 372.0L910.3 369.3L912.0 368.3L913.3 367.3L915.0 368.0L915.3 370.0L914.7 372.0L915.7 373.3L917.3 375.0L920.7 375.7L923.3 374.7L925.7 374.0L926.7 374.8L926.3 378.0L925.3 381.3L922.7 382.5L918.7 382.8L914.7 381.9L910.7 381.1L908.0 380.5L906.7 381.5L906.0 383.5L904.0 383.1L901.3 381.5L897.3 379.8L895.3 378.7L894.7 377.0L895.0 374.3L897.0 372.3L899.3 373.8ZM897.3 359.0L898.7 359.3L900.3 361.7L902.7 363.7L905.3 365.7L906.1 367.9L905.7 368.8L904.0 367.5L902.3 366.0L900.3 364.3L898.5 362.8L897.2 360.7ZM916.7 365.0L917.3 362.7L919.3 360.0L920.7 357.3L922.7 358.0L924.0 359.7L925.7 360.0L926.3 358.0L928.0 357.0L930.3 356.1L929.7 358.0L928.0 359.3L929.7 361.0L932.0 363.0L933.9 365.0L933.3 366.3L930.7 366.7L927.3 366.0L924.0 365.7L921.3 366.3L918.7 366.7L917.0 366.3ZM940.4 360.4L942.1 358.3L945.0 356.7L947.5 356.7L948.5 358.3L946.7 360.0L945.4 362.1L947.1 364.2L949.6 365.8L950.0 367.5L948.3 368.3L949.2 371.2L949.0 373.3L946.7 374.0L943.8 372.9L942.9 371.2L943.8 368.8L943.3 366.7L942.1 364.2L940.8 362.1ZM922.7 385.1L924.7 385.3L928.0 392.0L932.0 399.3L935.3 405.3L937.6 408.7L946.0 408.0L945.3 409.1L937.1 410.7L934.7 407.3L930.7 401.3L926.7 394.0L924.0 388.0ZM942.0 384.7L944.0 383.7L946.0 387.3L948.7 389.3L952.0 388.3L953.3 390.7L956.0 392.7L954.0 393.1L951.3 391.3L948.0 392.7L944.7 389.3ZM924.6 310.8L925.8 310.0L927.1 311.7L929.2 312.1L931.7 311.7L933.3 310.0L937.1 310.0L936.2 311.2L933.3 312.5L932.1 314.2L931.8 316.2L930.0 315.8L927.9 317.9L926.2 316.7L926.7 314.2L925.4 312.9ZM910.8 312.3L913.3 313.8L912.1 317.1L909.6 319.2L908.3 322.5L908.8 326.2L910.8 328.2L914.2 327.7L917.3 327.9L917.7 329.3L915.0 330.0L912.1 330.4L911.0 332.1L912.3 334.2L911.7 335.4L909.8 335.0L908.5 336.7L908.2 339.2L907.1 341.2L905.4 341.7L902.9 341.4L900.4 342.7L898.3 342.1L897.5 340.4L899.2 339.2L900.8 337.9L902.5 335.4L904.0 332.7L905.0 330.0L903.8 327.7L903.3 325.0L904.6 321.7L906.7 318.3L908.8 314.6Z" fill="#fff"/><path d="M897.3 372.1L900.9 372.2L900.7 373.5L898.7 373.3ZM892.3 363.8L893.8 363.7L893.9 366.0L892.5 366.1ZM892.1 366.8L893.9 366.7L893.9 369.9L892.3 370.0ZM911.5 375.5L914.3 375.7L914.5 376.5L911.7 376.3ZM922.1 376.1L924.3 375.7L924.2 376.7L922.5 377.0Z" fill="#2d9ddc" stroke="#2d9ddc" stroke-width="0.4" stroke-linejoin="round"/></g>
<circle cx="1053" cy="372" r="15" fill="#fff" stroke="#ff4500" stroke-width="10"/>
</svg>
</body>
</html>
